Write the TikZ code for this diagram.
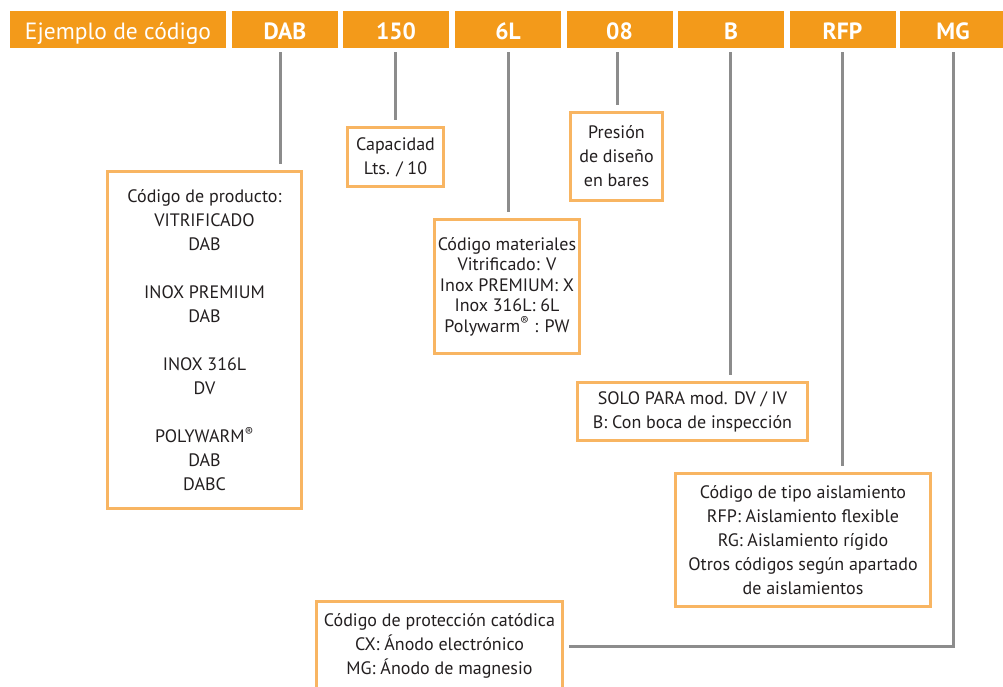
\documentclass[tikz,border=0pt]{standalone}
\usepackage{fontspec}
\setmainfont{PT Sans}
\definecolor{hdrorange}{HTML}{F39A1A}
\definecolor{boxorange}{HTML}{F8B562}
\definecolor{linegray}{HTML}{8C8C8C}
\definecolor{textdark}{HTML}{231F20}
\begin{document}
\begin{tikzpicture}[x=1pt,y=-1pt,
  hdr/.style={fill=hdrorange, text=white, minimum height=37pt, inner sep=0pt,
    text height=19pt, text depth=0pt,
    font=\fontsize{23.5}{26}\selectfont\bfseries},
  hdrtitle/.style={hdr, font=\fontsize{23.5}{26}\selectfont},
  box/.style={draw=boxorange, line width=3pt, fill=white, inner sep=0pt, align=center,
    text=textdark, font=\fontsize{18}{24}\selectfont},
  conn/.style={draw=linegray, line width=3pt}
]
\clip (0,0) rectangle (1003,686);
\fill[white] (0,0) rectangle (1003,686);

% header
\node[hdrtitle, minimum width=216pt] (htitle) at (118,29.5) {Ejemplo de código};
\node[hdr, minimum width=106pt] (hdab) at (285,29.5) {DAB};
\node[hdr, minimum width=106pt] (h150) at (396,29.5) {150};
\node[hdr, minimum width=106pt] (h6l) at (508,29.5) {6L};
\node[hdr, minimum width=106pt] (h08) at (619.5,29.5) {08};
\node[hdr, minimum width=106pt] (hb) at (731,29.5) {B};
\node[hdr, minimum width=106pt] (hrfp) at (842.5,29.5) {RFP};
\node[hdr, minimum width=106pt] (hmg) at (953,29.5) {MG};

% boxes
\node[box, minimum width=194pt, minimum height=337pt] (prod) at (204.5,340)
  {Código de producto:\\VITRIFICADO\\DAB\\[24pt]INOX PREMIUM\\DAB\\[24pt]INOX 316L\\DV\\[24pt]POLYWARM\textsuperscript{®}\\DAB\\DABC};
\node[box, minimum width=96pt, minimum height=59pt] (cap) at (395.5,157)
  {Capacidad\\Lts. / 10};
\node[box, minimum width=92pt, minimum height=88pt] (pres) at (616.5,156.5)
  {Presión\\de diseño\\en bares};
\node[box, minimum width=145pt, minimum height=134pt, font=\fontsize{18}{20.5}\selectfont] (mat) at (507,286.5)
  {Código materiales\\Vitrificado: V\\Inox PREMIUM: X\\Inox 316L: 6L\\Polywarm\textsuperscript{®} : PW};
\node[box, minimum width=230pt, minimum height=58pt] (solo) at (692.5,411.5)
  {SOLO PARA mod. DV / IV\\B: Con boca de inspección};
\node[box, minimum width=255pt, minimum height=133pt] (ais) at (803,540)
  {Código de tipo aislamiento\\RFP: Aislamiento flexible\\RG: Aislamiento rígido\\Otros códigos según apartado\\de aislamientos};
\node[box, minimum width=246pt, minimum height=90pt] (cat) at (439.5,646)
  {Código de protección catódica\\CX: Ánodo electrónico\\MG: Ánodo de magnesio};

% connectors
\draw[conn, shorten <=4pt, shorten >=6pt] ([xshift=-5pt]hdab.south) -- ([xshift=-5pt]hdab.south |- prod.north);
\draw[conn, shorten <=4pt, shorten >=6pt] ([xshift=-0.5pt]h150.south) -- ([xshift=-0.5pt]h150.south |- cap.north);
\draw[conn, shorten <=4pt, shorten >=6pt] (h6l.south) -- (h6l.south |- mat.north);
\draw[conn, shorten <=4pt, shorten >=6pt] ([xshift=-2.5pt]h08.south) -- ([xshift=-2.5pt]h08.south |- pres.north);
\draw[conn, shorten <=4pt, shorten >=6pt] ([xshift=-1pt]hb.south) -- ([xshift=-1pt]hb.south |- solo.north);
\draw[conn, shorten <=4pt, shorten >=6pt] ([xshift=-0.5pt]hrfp.south) -- ([xshift=-0.5pt]hrfp.south |- ais.north);
\draw[conn, shorten <=4pt, shorten >=5pt] (hmg.south) |- (cat.east);
\end{tikzpicture}
\end{document}
